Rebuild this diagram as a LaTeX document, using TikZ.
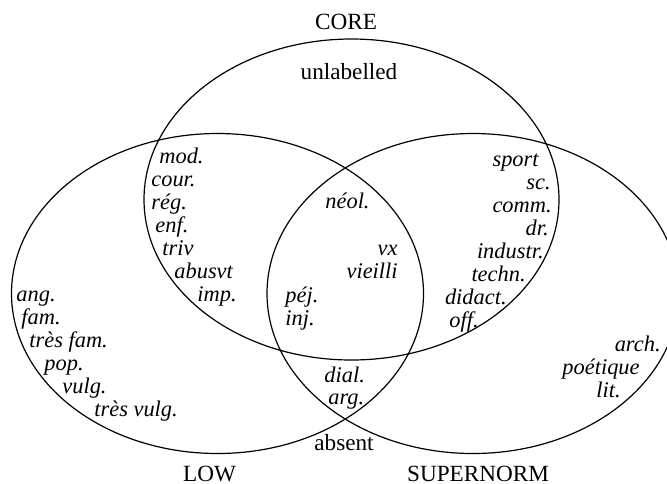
\documentclass[tikz,border=0pt]{standalone}
\usepackage{fontspec}
\setmainfont{Liberation Serif}
\begin{document}
\begin{tikzpicture}[x=0.5pt,y=-0.5pt,
  every node/.style={inner sep=0pt},
  txt/.style={font=\fontsize{11.6}{13}\selectfont},
  lab/.style={font=\fontsize{11.2}{13}\selectfont\itshape},
  setline/.style={draw, line width=0.6pt}]
\useasboundingbox (0,0) rectangle (667,483);
% sets
\draw[setline] (351.5,199.5) ellipse [x radius=103.75pt, y radius=80.25pt];
\draw[setline] (217.5,293.5) ellipse [x radius=103pt, y radius=80pt];
\draw[setline] (473,293.5) ellipse [x radius=103pt, y radius=80pt];
% set names
\node[txt, anchor=base] (core) at (346,29) {CORE};
\node[txt, anchor=base] (low) at (209.5,481) {LOW};
\node[txt, anchor=base] (sup) at (478,481) {SUPERNORM};
\node[txt, anchor=base] (unl) at (349,79) {unlabelled};
\node[txt, anchor=base] (abs) at (344,450) {absent};
% CORE and LOW
\node[lab, anchor=base west] (mod) at (159,163) {mod.};
\node[lab, anchor=base west] (cour) at (151,186) {cour.};
\node[lab, anchor=base west] (reg) at (151,209) {rég.};
\node[lab, anchor=base west] (enf) at (155,232) {enf.};
\node[lab, anchor=base west] (triv) at (162,255) {triv};
\node[lab, anchor=base west] (abu) at (174,278) {abusvt};
\node[lab, anchor=base west] (imp) at (197,301) {imp.};
% all three
\node[lab, anchor=base west] (neol) at (325,208) {néol.};
\node[lab, anchor=base east] (vx) at (398,255) {vx};
\node[lab, anchor=base east] (vie) at (398,278) {vieilli};
\node[lab, anchor=base west] (pej) at (285,302) {péj.};
\node[lab, anchor=base west] (inj) at (285,325) {inj.};
% CORE and SUPERNORM
\node[lab, anchor=base east] (sport) at (539,166) {sport};
\node[lab, anchor=base east] (sc) at (551,189) {sc.};
\node[lab, anchor=base east] (comm) at (552,212) {comm.};
\node[lab, anchor=base east] (dr) at (549,235) {dr.};
\node[lab, anchor=base east] (ind) at (544,258) {industr.};
\node[lab, anchor=base east] (tech) at (526,281) {techn.};
\node[lab, anchor=base east] (did) at (507,304) {didact.};
\node[lab, anchor=base west] (off) at (449,327) {off.};
% LOW only
\node[lab, anchor=base west] (ang) at (16,301) {ang.};
\node[lab, anchor=base west] (fam) at (21,324) {fam.};
\node[lab, anchor=base west] (tfam) at (29,347) {très fam.};
\node[lab, anchor=base west] (pop) at (44,370) {pop.};
\node[lab, anchor=base west] (vulg) at (62,393) {vulg.};
\node[lab, anchor=base west] (tvulg) at (94,416) {très vulg.};
% LOW and SUPERNORM
\node[lab, anchor=base west] (dial) at (324,382) {dial.};
\node[lab, anchor=base west] (arg) at (328,404) {arg.};
% SUPERNORM only
\node[lab, anchor=base east] (arch) at (661,351) {arch.};
\node[lab, anchor=base east] (poet) at (640,374) {poétique};
\node[lab, anchor=base east] (lit) at (621,397) {lit.};
\end{tikzpicture}
\end{document}
